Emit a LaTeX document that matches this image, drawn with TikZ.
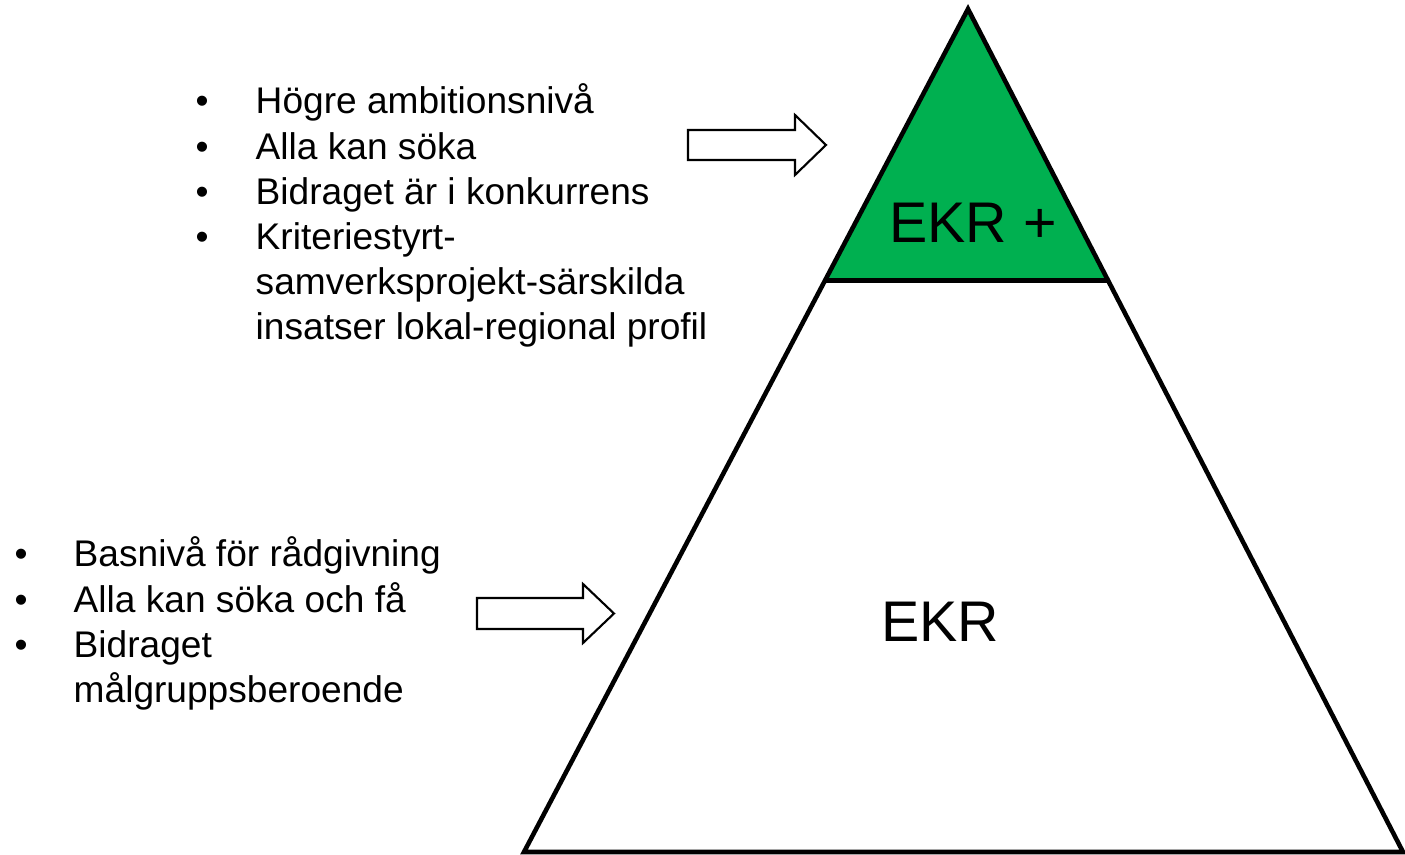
\documentclass[tikz,border=0pt]{standalone}
\usepackage{fontspec}
\setmainfont{Liberation Sans}
\usetikzlibrary{calc}
\definecolor{ekrgreen}{HTML}{00B050}
\tikzset{
  pyramid/.style={line width=1.3pt, line join=miter},
  blockarrow/.style={draw, line width=0.6pt, fill=white},
  levellabel/.style={anchor=base, inner sep=0pt, font=\fontsize{16.3}{19}\selectfont},
  pointlist/.style={anchor=base west, inner sep=0pt, align=left, font=\fontsize{10.55}{12.8}\selectfont}
}
\begin{document}
\begin{tikzpicture}[x=0.01cm, y=-0.01cm]
            \useasboundingbox (0,0) rectangle (1405,855);
            % corners of the pyramid
            \coordinate (apex) at (968,9);
            \coordinate (bl) at (524,852);
            \coordinate (br) at (1403,852);
            \coordinate (cutl) at ($(apex)!0.3223!(bl)$);
            \coordinate (cutr) at ($(apex)!0.3223!(br)$);
            % green top
            \fill[ekrgreen] (apex) -- (cutl) -- (cutr) -- cycle;
            \draw[pyramid] (apex) -- (bl) -- (br) -- cycle;
            \draw[pyramid] (cutl) -- (cutr);
            \node[levellabel] (ekrplus) at (973,243) {EKR +};
            \node[levellabel] (ekr) at (940,642) {EKR};
            % arrows
            \draw[blockarrow] (688,130) -- (795,130) -- (795,115) -- (826,145)
              -- (795,175) -- (795,160) -- (688,160) -- cycle;
            \draw[blockarrow] (477,598) -- (583,598) -- (583,584) -- (614,613.5)
              -- (583,643) -- (583,629) -- (477,629) -- cycle;
            % lists
            \node[pointlist] (toplist) at (195,114) {%
              \begin{tabular}[t]{@{}p{0.60cm}@{}l@{}}
              • & Högre ambitionsnivå\\
              • & Alla kan söka\\
              • & Bidraget är i konkurrens\\
              • & Kriteriestyrt-\\
                & samverksprojekt-särskilda\\
                & insatser lokal-regional profil
              \end{tabular}};
            \node[pointlist] (baselist) at (14,567) {%
              \begin{tabular}[t]{@{}p{0.59cm}@{}l@{}}
              • & Basnivå för rådgivning\\
              • & Alla kan söka och få\\
              • & Bidraget\\
                & målgruppsberoende
              \end{tabular}};
        \end{tikzpicture}
\end{document}
